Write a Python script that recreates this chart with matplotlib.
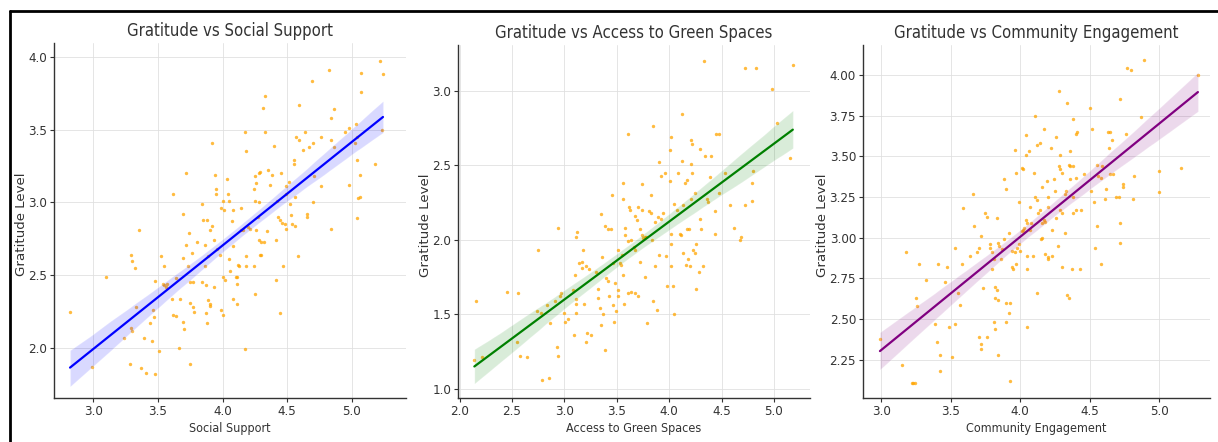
"""
Gratitude level against three community factors: scatter + linear fit (95% CI band).
Output: out.png
"""

import matplotlib
matplotlib.use("Agg")
import matplotlib.pyplot as plt
import seaborn as sns
from matplotlib.lines import Line2D

# --- values ---
social_x = [2.82, 2.99, 3.10, 3.29, 3.30, 3.32, 3.35, 3.33, 3.29, 3.30, 3.24, 3.28, 3.37, 3.41, 3.48, 3.39,
            3.45, 3.44, 3.47, 3.46, 3.48, 3.52, 3.51, 3.54, 3.55, 3.56, 3.57, 3.55, 3.62, 3.61, 3.62, 3.64,
            3.66, 3.67, 3.69, 3.70, 3.69, 3.69, 3.64, 3.72, 3.73, 3.72, 3.74, 3.76, 3.75, 3.77, 3.75, 3.77,
            3.78, 3.75, 3.80, 3.84, 3.85, 3.88, 3.86, 3.86, 3.84, 3.87, 3.87, 3.88, 3.89, 3.90, 3.90, 3.92,
            3.90, 3.89, 3.92, 3.93, 3.93, 3.94, 3.95, 3.95, 3.96, 3.98, 4.00, 3.99, 4.01, 4.00, 4.02, 3.99,
            4.00, 4.03, 4.04, 4.05, 4.05, 4.06, 4.07, 4.08, 4.08, 4.10, 4.11, 4.08, 4.11, 4.11, 4.12, 4.13,
            4.14, 4.14, 4.16, 4.17, 4.18, 4.17, 4.18, 4.18, 4.20, 4.21, 4.24, 4.24, 4.25, 4.28, 4.29, 4.26,
            4.25, 4.28, 4.27, 4.26, 4.25, 4.28, 4.30, 4.32, 4.29, 4.30, 4.31, 4.33, 4.33, 4.35, 4.38, 4.37,
            4.34, 4.40, 4.41, 4.41, 4.44, 4.42, 4.43, 4.44, 4.45, 4.46, 4.48, 4.47, 4.49, 4.49, 4.49, 4.51,
            4.52, 4.53, 4.55, 4.55, 4.54, 4.56, 4.56, 4.57, 4.59, 4.58, 4.59, 4.62, 4.64, 4.65, 4.65, 4.67,
            4.69, 4.70, 4.70, 4.71, 4.76, 4.76, 4.82, 4.84, 4.84, 4.84, 4.86, 4.86, 4.95, 4.98, 4.98, 5.02,
            5.03, 5.04, 5.04, 5.04, 5.05, 5.06, 5.06, 5.07, 5.07, 5.18, 5.22, 5.24, 5.23]
social_y = [2.25, 1.87, 2.49, 2.64, 2.60, 2.55, 2.81, 2.28, 2.14, 2.12, 2.07, 1.89, 1.86, 1.83, 1.82, 2.07,
            2.05, 2.17, 2.21, 2.26, 2.46, 2.63, 1.98, 2.44, 2.43, 2.42, 2.44, 2.56, 3.06, 2.34, 2.23, 2.22,
            2.00, 2.34, 2.18, 2.13, 2.92, 2.62, 2.48, 3.20, 2.56, 2.71, 2.79, 2.65, 2.45, 2.45, 2.31, 2.28,
            2.25, 1.89, 2.73, 2.99, 2.88, 2.88, 2.71, 2.56, 2.45, 2.43, 2.24, 2.17, 2.33, 2.30, 2.29, 3.41,
            2.81, 2.63, 2.84, 2.74, 2.42, 3.19, 3.09, 3.06, 2.68, 2.64, 3.01, 2.96, 2.95, 2.49, 2.47, 2.26,
            2.23, 3.16, 3.06, 3.01, 2.61, 2.53, 2.87, 2.95, 2.70, 2.49, 2.49, 2.34, 2.44, 2.30, 2.57, 2.56,
            2.96, 2.81, 2.81, 3.48, 3.35, 1.99, 2.63, 2.56, 2.83, 2.82, 3.09, 2.56, 3.18, 3.20, 3.21, 3.13,
            3.01, 3.00, 2.90, 2.81, 2.37, 2.74, 2.73, 2.73, 2.64, 2.64, 3.65, 3.73, 3.48, 3.22, 3.19, 3.12,
            2.80, 3.39, 2.74, 2.47, 2.24, 3.01, 2.90, 2.88, 3.20, 2.86, 2.85, 2.56, 3.11, 3.06, 2.82, 3.14,
            2.99, 2.91, 3.29, 3.26, 2.85, 2.84, 3.04, 3.45, 3.43, 2.63, 3.67, 3.36, 3.48, 2.92, 2.90, 3.38,
            3.83, 3.00, 3.41, 3.18, 3.45, 3.11, 3.91, 3.58, 3.43, 2.82, 3.64, 3.38, 3.48, 3.51, 3.12, 3.41,
            3.54, 3.45, 3.29, 2.89, 3.03, 3.04, 3.19, 3.89, 3.76, 3.26, 3.97, 3.88, 3.50]

green_x = [2.16, 2.14, 2.21, 2.45, 2.56, 2.55, 2.58, 2.64, 2.75, 2.74, 2.78, 2.79, 2.85, 2.83, 2.86, 2.94,
           2.91, 2.93, 2.94, 2.96, 2.97, 3.00, 3.01, 3.03, 3.08, 3.09, 3.10, 3.11, 3.11, 3.11, 3.11, 3.12,
           3.14, 3.17, 3.17, 3.18, 3.19, 3.21, 3.22, 3.25, 3.21, 3.23, 3.30, 3.32, 3.32, 3.34, 3.35, 3.35,
           3.36, 3.37, 3.39, 3.39, 3.40, 3.42, 3.42, 3.44, 3.43, 3.45, 3.46, 3.46, 3.47, 3.48, 3.49, 3.51,
           3.51, 3.51, 3.53, 3.54, 3.55, 3.56, 3.56, 3.56, 3.57, 3.58, 3.58, 3.61, 3.61, 3.64, 3.62, 3.63,
           3.61, 3.64, 3.66, 3.67, 3.67, 3.69, 3.67, 3.70, 3.70, 3.72, 3.72, 3.74, 3.75, 3.74, 3.74, 3.77,
           3.78, 3.77, 3.79, 3.81, 3.83, 3.83, 3.84, 3.85, 3.85, 3.86, 3.86, 3.88, 3.90, 3.92, 3.89, 3.92,
           3.90, 3.94, 3.96, 3.97, 3.98, 4.01, 4.02, 4.01, 4.02, 4.02, 4.02, 4.04, 4.05, 4.05, 4.07, 4.08,
           4.10, 4.11, 4.12, 4.12, 4.13, 4.13, 4.15, 4.17, 4.16, 4.17, 4.19, 4.18, 4.20, 4.21, 4.22, 4.21,
           4.21, 4.22, 4.23, 4.25, 4.25, 4.26, 4.26, 4.28, 4.29, 4.29, 4.30, 4.32, 4.33, 4.34, 4.36, 4.37,
           4.39, 4.40, 4.44, 4.44, 4.45, 4.48, 4.48, 4.53, 4.58, 4.62, 4.68, 4.69, 4.72, 4.72, 4.79, 4.79,
           4.80, 4.83, 4.98, 5.03, 5.15, 5.18]
green_y = [1.59, 1.19, 1.21, 1.65, 1.64, 1.31, 1.22, 1.21, 1.93, 1.52, 1.51, 1.06, 1.07, 1.56, 1.44, 2.08,
           1.59, 1.28, 1.22, 1.62, 1.64, 1.51, 1.45, 1.47, 1.66, 1.36, 1.76, 1.60, 1.57, 1.51, 2.02, 2.05,
           1.84, 1.85, 1.81, 1.93, 1.57, 1.31, 1.37, 1.36, 1.82, 1.80, 1.78, 1.67, 1.61, 1.54, 1.43, 2.17,
           1.88, 1.50, 1.26, 2.09, 1.74, 1.72, 2.07, 2.07, 1.62, 2.30, 1.84, 1.56, 1.45, 1.71, 1.52, 1.93,
           1.66, 1.62, 1.84, 1.83, 1.90, 2.38, 2.27, 1.76, 1.57, 2.03, 2.08, 2.71, 1.99, 2.00, 2.22, 2.20,
           1.64, 1.65, 1.95, 1.93, 2.16, 2.13, 1.64, 1.62, 2.22, 1.85, 2.07, 2.03, 2.01, 2.37, 2.20, 2.02,
           2.02, 1.75, 1.44, 2.19, 2.18, 2.30, 2.00, 2.76, 1.59, 2.12, 1.82, 1.53, 2.52, 2.43, 2.15, 2.14,
           1.90, 2.18, 2.45, 1.89, 1.69, 2.60, 2.69, 2.39, 2.04, 1.97, 1.82, 1.69, 1.50, 2.24, 2.20, 2.45,
           2.04, 2.03, 2.84, 2.53, 2.23, 1.91, 2.38, 2.40, 1.83, 2.07, 2.07, 1.87, 1.82, 2.67, 2.64, 2.51,
           2.27, 2.45, 1.93, 1.91, 2.31, 1.97, 1.67, 1.78, 2.14, 2.61, 2.07, 1.82, 3.20, 2.56, 2.27, 2.25,
           2.42, 2.56, 2.19, 2.04, 2.71, 2.71, 2.31, 2.45, 2.23, 2.08, 2.00, 2.02, 2.23, 3.15, 2.38, 2.26,
           2.46, 3.15, 3.01, 2.78, 2.55, 3.17]

community_x = [2.99, 3.15, 3.18, 3.22, 3.23, 3.24, 3.25, 3.26, 3.27, 3.32, 3.39, 3.40, 3.41, 3.42, 3.42, 3.46,
               3.47, 3.49, 3.51, 3.53, 3.53, 3.55, 3.57, 3.59, 3.58, 3.64, 3.66, 3.67, 3.69, 3.70, 3.70, 3.72,
               3.72, 3.72, 3.73, 3.75, 3.76, 3.76, 3.78, 3.78, 3.80, 3.80, 3.81, 3.81, 3.82, 3.82, 3.83, 3.82,
               3.84, 3.83, 3.84, 3.85, 3.84, 3.86, 3.87, 3.88, 3.88, 3.90, 3.93, 3.90, 3.92, 3.90, 3.93, 3.92,
               3.94, 3.95, 3.94, 3.96, 3.96, 3.97, 3.97, 3.98, 3.99, 4.00, 3.99, 4.01, 4.02, 4.03, 4.01, 4.02,
               4.04, 4.04, 4.05, 4.04, 4.05, 4.05, 4.05, 4.06, 4.07, 4.07, 4.08, 4.09, 4.10, 4.11, 4.11, 4.12,
               4.12, 4.12, 4.13, 4.14, 4.14, 4.15, 4.16, 4.16, 4.16, 4.17, 4.17, 4.18, 4.18, 4.20, 4.20, 4.19,
               4.20, 4.20, 4.22, 4.23, 4.23, 4.24, 4.25, 4.26, 4.26, 4.27, 4.28, 4.28, 4.29, 4.30, 4.29, 4.30,
               4.29, 4.30, 4.32, 4.32, 4.33, 4.34, 4.35, 4.34, 4.35, 4.36, 4.38, 4.36, 4.36, 4.38, 4.38, 4.40,
               4.38, 4.37, 4.40, 4.41, 4.40, 4.43, 4.44, 4.46, 4.50, 4.51, 4.52, 4.53, 4.54, 4.55, 4.55, 4.56,
               4.58, 4.58, 4.59, 4.61, 4.62, 4.63, 4.65, 4.64, 4.65, 4.67, 4.66, 4.69, 4.71, 4.72, 4.72, 4.72,
               4.74, 4.74, 4.76, 4.77, 4.80, 4.81, 4.82, 4.87, 4.89, 5.00, 5.00, 5.16, 5.28]
community_y = [2.38, 2.22, 2.91, 2.11, 2.11, 2.11, 2.63, 2.58, 2.84, 2.74, 2.47, 2.36, 2.84, 2.28, 2.18, 2.73,
               2.82, 2.45, 2.27, 2.47, 2.94, 2.66, 2.59, 3.18, 2.84, 2.89, 3.27, 3.07, 2.91, 2.94, 2.39, 2.35,
               2.32, 3.01, 2.69, 3.15, 3.13, 2.39, 2.96, 2.94, 2.91, 2.81, 2.87, 2.48, 2.44, 2.70, 2.68, 2.63,
               2.62, 3.12, 2.97, 2.95, 2.28, 2.87, 2.93, 2.99, 3.36, 2.60, 2.60, 3.30, 2.54, 2.48, 2.12, 3.03,
               2.82, 2.81, 2.92, 2.91, 3.54, 3.40, 2.84, 2.94, 2.96, 2.92, 3.22, 3.04, 3.05, 3.06, 3.43, 3.42,
               3.51, 3.11, 3.09, 3.63, 2.89, 2.81, 2.45, 3.53, 3.19, 3.05, 3.09, 2.89, 3.40, 3.75, 3.25, 3.23,
               3.57, 2.66, 3.15, 3.17, 3.58, 2.99, 3.00, 3.31, 3.09, 3.67, 3.11, 3.10, 2.90, 2.88, 2.87, 3.35,
               3.19, 3.25, 3.55, 3.05, 2.89, 3.36, 3.29, 3.62, 3.12, 2.95, 3.90, 3.44, 3.42, 3.40, 3.17, 3.15,
               3.51, 2.82, 3.27, 3.03, 3.29, 2.65, 2.63, 3.83, 3.45, 3.44, 3.44, 3.53, 3.36, 3.73, 3.15, 3.17,
               3.25, 2.81, 3.64, 3.65, 3.37, 2.81, 3.17, 3.39, 3.80, 3.29, 3.67, 3.22, 2.94, 3.45, 3.07, 3.38,
               3.37, 2.84, 3.44, 3.24, 3.30, 3.65, 3.65, 3.55, 3.39, 3.39, 3.60, 3.25, 3.25, 3.85, 3.09, 2.97,
               3.33, 3.31, 3.64, 4.04, 4.03, 3.24, 3.38, 3.74, 4.09, 3.41, 3.28, 3.43, 4.00]

titles = ["Gratitude vs Social Support", "Gratitude vs Access to Green Spaces",
          "Gratitude vs Community Engagement"]
xlabels = ["Social Support", "Access to Green Spaces", "Community Engagement"]
line_colors = ["blue", "green", "purple"]
xticks = [[3.0, 3.5, 4.0, 4.5, 5.0], [2.0, 2.5, 3.0, 3.5, 4.0, 4.5, 5.0], [3.0, 3.5, 4.0, 4.5, 5.0]]
yticks = [[2.0, 2.5, 3.0, 3.5, 4.0], [1.0, 1.5, 2.0, 2.5, 3.0], [2.25, 2.5, 2.75, 3.0, 3.25, 3.5, 3.75, 4.0]]
ytick_fmt = ["{:.1f}", "{:.1f}", "{:.2f}"]

# axes placement in pixels (left, right, top, bottom) and limits
W, H = 1218, 442
boxes = [(54, 406, 43, 398), (458, 810, 45, 398), (863, 1210, 45, 398)]
xlims = [(2.696, 5.418), (1.984, 5.344), (2.868, 5.367)]
ylims = [(1.657, 4.094), (0.937, 3.306), (2.016, 4.184)]
ylabel_x = [-0.074, -0.074, -0.098]   # right edge of the rotated y label, axes fraction

sns.set_style("whitegrid")
plt.rcParams["font.family"] = ["DejaVu Sans"]
plt.rcParams["font.stretch"] = "condensed"   # DejaVu Sans Condensed

TXT = "#333333"
fig = plt.figure(figsize=(W / 100, H / 100), dpi=100)
data = [(social_x, social_y), (green_x, green_y), (community_x, community_y)]

for i, (xs, ys) in enumerate(data):
    l, r, t, b = boxes[i]
    ax = fig.add_axes([l / W, 1 - b / H, (r - l) / W, (b - t) / H])
    sns.regplot(x=xs, y=ys, ax=ax, seed=0,
                scatter_kws={"s": 6, "color": "orange", "alpha": 0.75, "linewidths": 0},
                line_kws={"color": line_colors[i], "lw": 1.6})
    ax.set_xlim(*xlims[i])
    ax.set_ylim(*ylims[i])
    ax.set_xticks(xticks[i])
    ax.set_xticklabels([f"{v:.1f}" for v in xticks[i]])
    ax.set_yticks(yticks[i])
    ax.set_yticklabels([ytick_fmt[i].format(v) for v in yticks[i]])
    ax.grid(True, color="#e0e0e0", lw=0.6)
    for s in ("top", "right"):
        ax.spines[s].set_visible(False)
    for s in ("left", "bottom"):
        ax.spines[s].set_color(TXT)
        ax.spines[s].set_linewidth(1.0)
    ax.tick_params(bottom=True, left=True, length=3, width=0.8, color=TXT,
                   labelsize=9.5, labelcolor=TXT, pad=2)
    ax.set_title(titles[i], fontsize=12, color=TXT, pad=5)
    ax.set_xlabel(xlabels[i], fontsize=9, color=TXT, labelpad=3)
    ax.set_ylabel("Gratitude Level", fontsize=9.6, color=TXT, fontstretch="normal")
    ax.yaxis.set_label_coords(ylabel_x[i], 0.49)

# black frame on the left and top edges (screenshot border)
fig.add_artist(Line2D([10 / W, 10 / W], [0, 1 - 11 / H], color="black", lw=2))
fig.add_artist(Line2D([10 / W, 1], [1 - 11 / H, 1 - 11 / H], color="black", lw=2))

fig.savefig("out.png", dpi=100)
